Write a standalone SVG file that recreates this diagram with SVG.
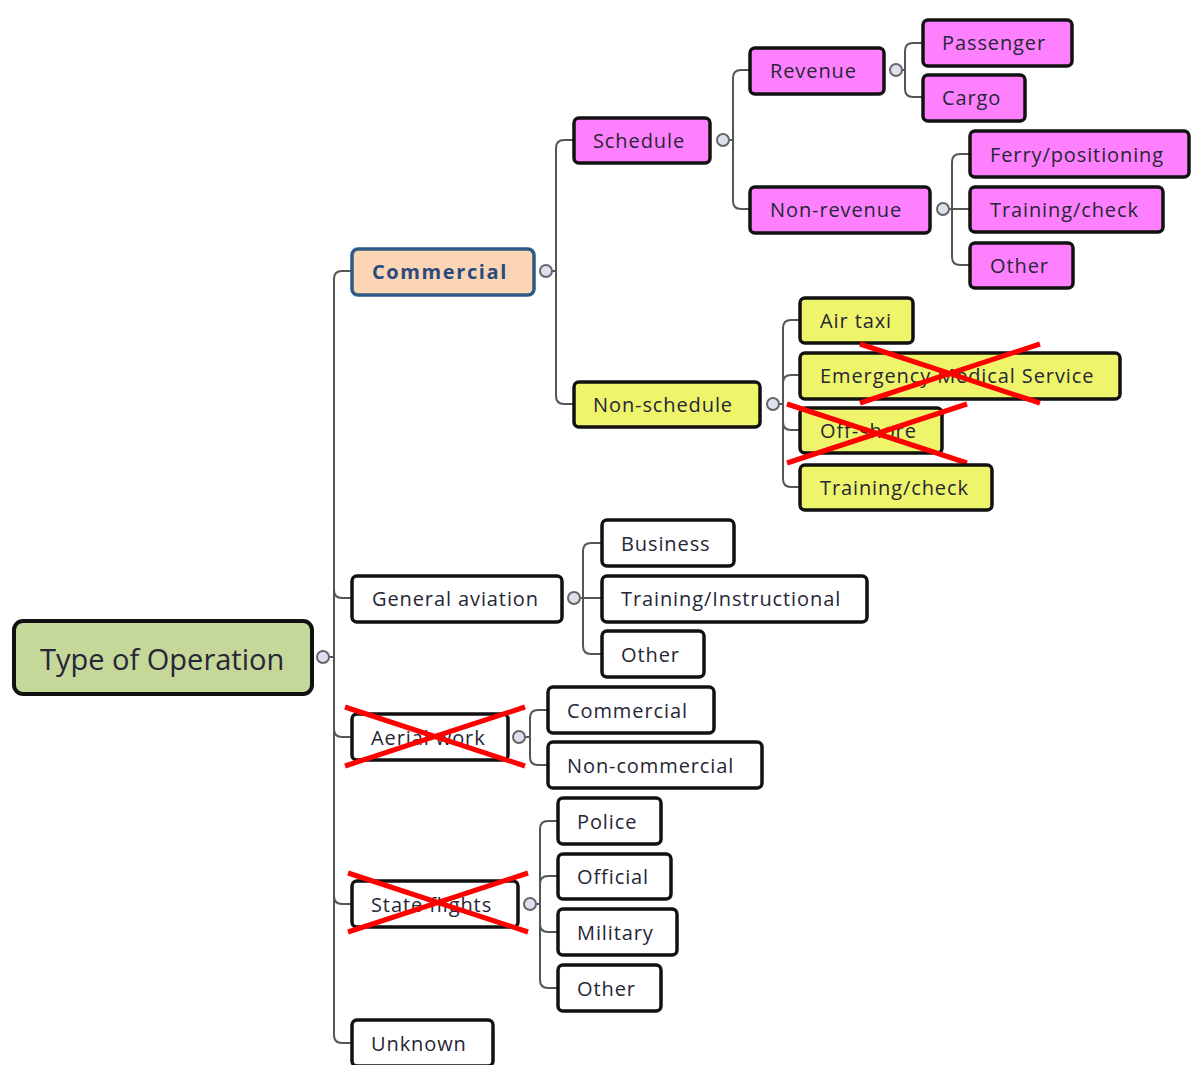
<svg xmlns="http://www.w3.org/2000/svg" width="1192" height="1065" viewBox="0 0 1192 1065">
  <defs>
    <style>
      .link { fill: none; stroke: #555; stroke-width: 2; }
      .box { stroke: #111; stroke-width: 3.5; }
      .pink { fill: #ff80ff; }
      .yellow { fill: #eef56a; }
      .white { fill: #ffffff; }
      .label { font-family: "Open Sans", "DejaVu Sans", sans-serif; font-size: 20px; letter-spacing: 0.9px; fill: #262636; dominant-baseline: central; }
      .toggle { fill: #dde0ee; stroke: #666; stroke-width: 2; }
      .strike { stroke: #ff0000; stroke-width: 5; stroke-linecap: butt; }
    </style>
  </defs>
  <rect width="1192" height="1065" fill="#ffffff"/>

  <!-- connectors -->
  <g id="connectors">
    <!-- root trunk -->
    <path class="link" d="M329 657 H334 V279 Q334 271 342 271 H352"/>
    <path class="link" d="M334 590 Q334 598 342 598 H352"/>
    <path class="link" d="M334 729 Q334 737 342 737 H352"/>
    <path class="link" d="M334 896 Q334 904 342 904 H352"/>
    <path class="link" d="M334 657 V1035 Q334 1043 342 1043 H352"/>
    <!-- Commercial -->
    <path class="link" d="M552 271 H556 V148 Q556 140 564 140 H574"/>
    <path class="link" d="M556 271 V396 Q556 404 564 404 H574"/>
    <!-- Schedule -->
    <path class="link" d="M729 140 H733 V78 Q733 70 741 70 H750"/>
    <path class="link" d="M733 140 V201 Q733 209 741 209 H750"/>
    <!-- Revenue -->
    <path class="link" d="M902 70 H905 V51 Q905 43 913 43 H923"/>
    <path class="link" d="M905 70 V89 Q905 97 913 97 H923"/>
    <!-- Non-revenue -->
    <path class="link" d="M949 209 H952 V162 Q952 154 960 154 H970"/>
    <path class="link" d="M952 209 H970"/>
    <path class="link" d="M952 209 V257 Q952 265 960 265 H970"/>
    <!-- Non-schedule -->
    <path class="link" d="M779 404 H783 V328 Q783 320 791 320 H800"/>
    <path class="link" d="M783 383 Q783 375 791 375 H800"/>
    <path class="link" d="M783 422 Q783 430 791 430 H800"/>
    <path class="link" d="M783 404 V479 Q783 487 791 487 H800"/>
    <!-- General aviation -->
    <path class="link" d="M580 598 H583 V551 Q583 543 591 543 H602"/>
    <path class="link" d="M583 598 H602"/>
    <path class="link" d="M583 598 V646 Q583 654 591 654 H602"/>
    <!-- Aerial work -->
    <path class="link" d="M525 737 H530 V718 Q530 710 538 710 H548"/>
    <path class="link" d="M530 737 V757 Q530 765 538 765 H548"/>
    <!-- State flights -->
    <path class="link" d="M536 904 H540 V829 Q540 821 548 821 H558"/>
    <path class="link" d="M540 884 Q540 876 548 876 H558"/>
    <path class="link" d="M540 924 Q540 932 548 932 H558"/>
    <path class="link" d="M540 904 V980 Q540 988 548 988 H558"/>
  </g>

  <!-- root -->
  <g id="n-root">
    <rect x="14" y="621" width="298" height="73" rx="9" fill="#c5d89a" stroke="#111" stroke-width="4"/>
    <text x="40" y="658" class="label" style="font-size:29px;letter-spacing:0">Type of Operation</text>
    <circle class="toggle" cx="323" cy="657" r="6"/>
  </g>

  <g id="n-commercial">
    <rect x="352" y="249" width="182" height="46" rx="6" fill="#fcd5b4" stroke="#2e5a8a" stroke-width="3.5"/>
    <text x="372" y="271" class="label" style="font-weight:bold;letter-spacing:1.6px;fill:#2b4a7e">Commercial</text>
    <circle class="toggle" cx="546" cy="271" r="6"/>
  </g>

  <g id="n-schedule">
    <rect class="box pink" x="574" y="118" width="136" height="45" rx="5"/>
    <text x="593" y="140" class="label">Schedule</text>
    <circle class="toggle" cx="723" cy="140" r="6"/>
  </g>

  <g id="n-revenue">
    <rect class="box pink" x="750" y="48" width="134" height="46" rx="5"/>
    <text x="770" y="70" class="label">Revenue</text>
    <circle class="toggle" cx="896" cy="70" r="6"/>
  </g>
  <g id="n-passenger">
    <rect class="box pink" x="923" y="20" width="149" height="46" rx="5"/>
    <text x="942" y="42" class="label">Passenger</text>
  </g>
  <g id="n-cargo">
    <rect class="box pink" x="923" y="75" width="102" height="46" rx="5"/>
    <text x="942" y="97" class="label">Cargo</text>
  </g>

  <g id="n-nonrevenue">
    <rect class="box pink" x="750" y="187" width="180" height="46" rx="5"/>
    <text x="770" y="209" class="label">Non-revenue</text>
    <circle class="toggle" cx="943" cy="209" r="6"/>
  </g>
  <g id="n-ferry">
    <rect class="box pink" x="970" y="131" width="219" height="46" rx="5"/>
    <text x="990" y="154" class="label">Ferry/positioning</text>
  </g>
  <g id="n-training-check-1">
    <rect class="box pink" x="970" y="187" width="193" height="45" rx="5"/>
    <text x="990" y="209" class="label">Training/check</text>
  </g>
  <g id="n-other-1">
    <rect class="box pink" x="970" y="243" width="103" height="45" rx="5"/>
    <text x="990" y="265" class="label">Other</text>
  </g>

  <g id="n-nonschedule">
    <rect class="box yellow" x="574" y="382" width="186" height="45" rx="5"/>
    <text x="593" y="404" class="label">Non-schedule</text>
    <circle class="toggle" cx="773" cy="404" r="6"/>
  </g>
  <g id="n-airtaxi">
    <rect class="box yellow" x="800" y="298" width="113" height="45" rx="5"/>
    <text x="820" y="320" class="label">Air taxi</text>
  </g>
  <g id="n-ems">
    <rect class="box yellow" x="800" y="353" width="320" height="46" rx="5"/>
    <text x="820" y="375" class="label">Emergency Medical Service</text>
    <line class="strike" x1="860" y1="344" x2="1040" y2="403"/>
    <line class="strike" x1="860" y1="403" x2="1040" y2="344"/>
  </g>
  <g id="n-offshore">
    <rect class="box yellow" x="800" y="408" width="142" height="45" rx="5"/>
    <text x="820" y="430" class="label">Off-shore</text>
    <line class="strike" x1="787" y1="404" x2="967" y2="463"/>
    <line class="strike" x1="787" y1="463" x2="967" y2="404"/>
  </g>
  <g id="n-training-check-2">
    <rect class="box yellow" x="800" y="465" width="192" height="45" rx="5"/>
    <text x="820" y="487" class="label">Training/check</text>
  </g>

  <g id="n-general">
    <rect class="box white" x="352" y="576" width="210" height="46" rx="5"/>
    <text x="372" y="598" class="label">General aviation</text>
    <circle class="toggle" cx="574" cy="598" r="6"/>
  </g>
  <g id="n-business">
    <rect class="box white" x="602" y="520" width="132" height="46" rx="5"/>
    <text x="621" y="543" class="label">Business</text>
  </g>
  <g id="n-training-instr">
    <rect class="box white" x="602" y="576" width="265" height="46" rx="5"/>
    <text x="621" y="598" class="label">Training/Instructional</text>
  </g>
  <g id="n-other-2">
    <rect class="box white" x="602" y="631" width="102" height="46" rx="5"/>
    <text x="621" y="654" class="label">Other</text>
  </g>

  <g id="n-aerial">
    <rect class="box white" x="352" y="714" width="156" height="46" rx="5"/>
    <text x="371" y="737" class="label">Aerial work</text>
    <circle class="toggle" cx="519" cy="737" r="6"/>
    <line class="strike" x1="345" y1="707" x2="525" y2="766"/>
    <line class="strike" x1="345" y1="766" x2="525" y2="707"/>
  </g>
  <g id="n-aw-commercial">
    <rect class="box white" x="548" y="687" width="166" height="46" rx="5"/>
    <text x="567" y="710" class="label">Commercial</text>
  </g>
  <g id="n-aw-noncommercial">
    <rect class="box white" x="548" y="742" width="214" height="46" rx="5"/>
    <text x="567" y="765" class="label">Non-commercial</text>
  </g>

  <g id="n-state">
    <rect class="box white" x="352" y="881" width="166" height="46" rx="5"/>
    <text x="371" y="904" class="label">State flights</text>
    <circle class="toggle" cx="530" cy="904" r="6"/>
    <line class="strike" x1="348" y1="873" x2="528" y2="932"/>
    <line class="strike" x1="348" y1="932" x2="528" y2="873"/>
  </g>
  <g id="n-police">
    <rect class="box white" x="558" y="798" width="103" height="46" rx="5"/>
    <text x="577" y="821" class="label">Police</text>
  </g>
  <g id="n-official">
    <rect class="box white" x="558" y="854" width="113" height="45" rx="5"/>
    <text x="577" y="876" class="label">Official</text>
  </g>
  <g id="n-military">
    <rect class="box white" x="558" y="909" width="119" height="46" rx="5"/>
    <text x="577" y="932" class="label">Military</text>
  </g>
  <g id="n-other-3">
    <rect class="box white" x="558" y="965" width="103" height="46" rx="5"/>
    <text x="577" y="988" class="label">Other</text>
  </g>

  <g id="n-unknown">
    <rect class="box white" x="352" y="1020" width="141" height="46" rx="5"/>
    <text x="371" y="1043" class="label">Unknown</text>
  </g>
</svg>
